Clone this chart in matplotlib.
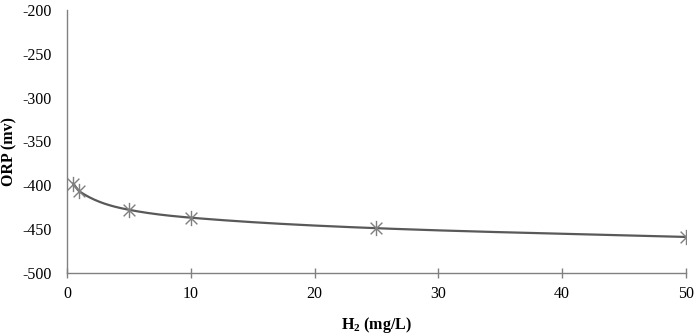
import numpy as np
import matplotlib
matplotlib.use("Agg")
import matplotlib.pyplot as plt
from matplotlib.path import Path

# ── Data ──────────────────────────────────────────────────────────────────────
h2_mgL = [0.5, 1, 5, 10, 25, 50]
orp_mv = [-398, -407, -428, -437, -449, -459]

x_ticks = [0, 10, 20, 30, 40, 50]
y_ticks = [-500, -450, -400, -350, -300, -250, -200]

plt.rcParams["font.family"] = ["Liberation Serif", "DejaVu Serif"]
plt.rcParams["axes.unicode_minus"] = False
plt.rcParams["mathtext.fontset"] = "custom"
plt.rcParams["mathtext.rm"] = "Liberation Serif"
plt.rcParams["mathtext.bf"] = "Liberation Serif:bold"


def smooth_curve(xs, ys, n=40):
    """Smoothed line through the points (monotone cubic Hermite)."""
    x = np.asarray(xs, float)
    y = np.asarray(ys, float)
    h = np.diff(x)
    d = np.diff(y) / h
    m = np.empty_like(x)
    m[0], m[-1] = d[0], d[-1]
    for i in range(1, len(x) - 1):
        w1 = 2 * h[i] + h[i - 1]
        w2 = h[i] + 2 * h[i - 1]
        m[i] = (w1 + w2) / (w1 / d[i - 1] + w2 / d[i])
    out_x, out_y = [x[0]], [y[0]]
    for i in range(len(x) - 1):
        t = np.linspace(0, 1, n)[1:]
        h00 = 2 * t**3 - 3 * t**2 + 1
        h10 = t**3 - 2 * t**2 + t
        h01 = -2 * t**3 + 3 * t**2
        h11 = t**3 - t**2
        out_x.extend(x[i] + t * h[i])
        out_y.extend(h00 * y[i] + h10 * h[i] * m[i] + h01 * y[i + 1] + h11 * h[i] * m[i + 1])
    return np.array(out_x), np.array(out_y)


# asterisk marker like Excel: an X plus a vertical stroke
star = Path(
    [(-1, -1), (1, 1), (-1, 1), (1, -1), (0, -1.3), (0, 1.3)],
    [Path.MOVETO, Path.LINETO, Path.MOVETO, Path.LINETO, Path.MOVETO, Path.LINETO],
)

fig = plt.figure(figsize=(6.99, 3.34), dpi=100)
ax = fig.add_axes([0.096, 0.183, 0.885, 0.787])

sx, sy = smooth_curve(h2_mgL, orp_mv)
ax.plot(sx, sy, color="#595959", linewidth=1.6, zorder=2)
ax.plot(h2_mgL, orp_mv, linestyle="none", marker=star, markersize=11,
        markeredgecolor="#7f7f7f", markeredgewidth=1.0, zorder=3)

ax.set_xlim(0, 50)
ax.set_ylim(-500, -200)
ax.set_xticks(x_ticks)
ax.set_yticks(y_ticks)
ax.tick_params(axis="x", direction="inout", length=7, width=1, color="#808080",
               labelsize=11.5, pad=6)
ax.tick_params(axis="y", length=0, labelsize=11.5, pad=11)

for side in ["top", "right"]:
    ax.spines[side].set_visible(False)
for side in ["left", "bottom"]:
    ax.spines[side].set_color("#808080")
    ax.spines[side].set_linewidth(1.0)

ax.set_xlabel("H$_\\mathbf{2}$ (mg/L)", fontsize=11.5, fontweight="bold")
ax.set_ylabel("ORP (mv)", fontsize=11.5, fontweight="bold")
ax.xaxis.set_label_coords(0.5, -0.16)
ax.yaxis.set_label_coords(-0.081, 0.46)

fig.savefig("out.png", dpi=100)
